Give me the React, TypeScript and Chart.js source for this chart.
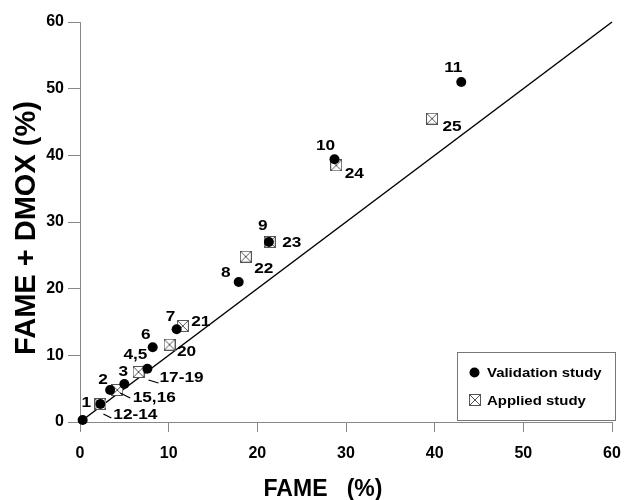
import React, { useEffect, useRef } from "react";
import { Chart, registerables } from "chart.js";

Chart.register(...registerables);

const validationX = [0.3, 2.3, 3.4, 5.0, 7.6, 8.2, 10.9, 17.9, 21.3, 28.7, 43.0];
const validationY = [0.3, 2.7, 4.8, 5.7, 8.0, 11.2, 13.9, 21.0, 27.0, 39.4, 51.0];
const validationLabels = ["", "1", "2", "3", "4,5", "6", "7", "8", "9", "10", "11"];

const appliedX = [2.3, 4.2, 6.6, 10.1, 11.6, 18.7, 21.4, 28.9, 39.7];
const appliedY = [2.7, 4.8, 7.5, 11.6, 14.4, 24.8, 27.0, 38.5, 45.5];
const appliedLabels = ["12-14", "15,16", "17-19", "20", "21", "22", "23", "24", "25"];

const identityLine = [0, 60];
const axisTicks = [0, 10, 20, 30, 40, 50, 60];

const xTitle = "FAME   (%)";
const yTitle = "FAME + DMOX (%)";
const legendNames = ["Validation study", "Applied study"];

// label offsets (pixels) relative to the point
const validationOffsets: [number, number][] = [
  [0, 0], [-14, -1], [-7, -10], [-1, -12], [-12, -14], [-7, -12], [-6, -12], [-13, -9], [-6, -16], [-9, -13], [-8, -14],
];
const appliedOffsets: [number, number][] = [
  [35, 11], [37, 8], [43, 6], [17, 7], [18, -4], [18, 12], [22, 1], [18, 9], [20, 8],
];
// leader lines for labels with them: [fromDx, fromDy, toDx, toDy]
const appliedLeaders: (number[] | null)[] = [
  [3, 10, 11, 14], [3, 3, 13, 8], [10, 8, 20, 11], null, null, null, null, null, null,
];

function makeBoxX(size: number): HTMLCanvasElement {
  const c = document.createElement("canvas");
  c.width = size;
  c.height = size;
  const g = c.getContext("2d")!;
  g.fillStyle = "#fff";
  g.fillRect(0, 0, size, size);
  g.strokeStyle = "#555";
  g.lineWidth = 1;
  g.strokeRect(0.5, 0.5, size - 1, size - 1);
  g.beginPath();
  g.moveTo(1, 1);
  g.lineTo(size - 1, size - 1);
  g.moveTo(size - 1, 1);
  g.lineTo(1, size - 1);
  g.stroke();
  return c;
}

const FONT = "'Liberation Sans', Arial, sans-serif";

function wideText(ctx: CanvasRenderingContext2D, t: string, x: number, y: number, sx: number) {
  ctx.save();
  ctx.translate(x, y);
  ctx.scale(sx, 1);
  ctx.fillText(t, 0, 0);
  ctx.restore();
}

const boxImg = makeBoxX(12);

const annotationPlugin = {
  id: "annot",
  afterDatasetsDraw(chart: any) {
    const ctx = chart.ctx as CanvasRenderingContext2D;
    const xs = chart.scales.x;
    const ys = chart.scales.y;
    const ca = chart.chartArea;
    ctx.save();
    ctx.fillStyle = "#000";
    ctx.textAlign = "center";
    ctx.textBaseline = "middle";
    ctx.font = `bold 15px ${FONT}`;
    validationLabels.forEach((t, i) => {
      if (!t) return;
      const px = xs.getPixelForValue(validationX[i]);
      const py = ys.getPixelForValue(validationY[i]);
      const [dx, dy] = validationOffsets[i];
      wideText(ctx, t, px + dx, py + dy, 1.15);
    });
    ctx.strokeStyle = "#000";
    ctx.lineWidth = 1.2;
    appliedLabels.forEach((t, i) => {
      const px = xs.getPixelForValue(appliedX[i]);
      const py = ys.getPixelForValue(appliedY[i]);
      const [dx, dy] = appliedOffsets[i];
      wideText(ctx, t, px + dx, py + dy, 1.15);
      const l = appliedLeaders[i];
      if (l) {
        ctx.beginPath();
        ctx.moveTo(px + l[0], py + l[1]);
        ctx.lineTo(px + l[2], py + l[3]);
        ctx.stroke();
      }
    });

    // axis titles
    ctx.textBaseline = "alphabetic";
    ctx.font = `bold 23px ${FONT}`;
    ctx.fillText(xTitle, (ca.left + ca.right) / 2 - 23, 496);
    ctx.save();
    ctx.translate(35, 228);
    ctx.rotate(-Math.PI / 2);
    ctx.font = `bold 29px ${FONT}`;
    ctx.fillText(yTitle, 0, 0);
    ctx.restore();

    // legend
    const lx = ca.right - 155;
    const ly = ca.bottom - 70;
    const lw = 158;
    const lh = 68;
    ctx.fillStyle = "#fff";
    ctx.fillRect(lx, ly, lw, lh);
    ctx.strokeStyle = "#777";
    ctx.lineWidth = 1;
    ctx.strokeRect(lx + 0.5, ly + 0.5, lw, lh);
    ctx.fillStyle = "#000";
    ctx.beginPath();
    ctx.arc(lx + 17.5, ly + 20.5, 5, 0, Math.PI * 2);
    ctx.fill();
    ctx.drawImage(boxImg, lx + 12, ly + 42, 12, 12);
    ctx.textAlign = "left";
    ctx.textBaseline = "middle";
    ctx.font = `bold 13px ${FONT}`;
    ctx.save();
    ctx.translate(lx + 30, 0);
    ctx.scale(1.15, 1);
    ctx.fillText(legendNames[0], 0, ly + 21);
    ctx.fillText(legendNames[1], 0, ly + 49);
    ctx.restore();
    ctx.restore();
  },
};

export default function App() {
  const ref = useRef<HTMLCanvasElement>(null);
  useEffect(() => {
    document.body.style.margin = "0";
    const chart = new Chart(ref.current!, {
      type: "scatter",
      data: {
        datasets: [
          {
            label: "line",
            data: identityLine.map((v) => ({ x: v, y: v })),
            showLine: true,
            borderColor: "#000",
            borderWidth: 1.5,
            pointRadius: 0,
            order: 3,
          },
          {
            label: legendNames[1],
            data: appliedX.map((x, i) => ({ x, y: appliedY[i] })),
            pointStyle: boxImg as any,
            pointRadius: 6,
            order: 2,
          },
          {
            label: legendNames[0],
            data: validationX.map((x, i) => ({ x, y: validationY[i] })),
            pointStyle: "circle",
            pointRadius: 5,
            backgroundColor: "#000",
            borderColor: "#000",
            borderWidth: 0,
            order: 1,
          },
        ],
      },
      options: {
        responsive: false,
        animation: false,
        clip: false as any,
        layout: { padding: { top: 22, right: 16, left: 0, bottom: 0 } },
        plugins: { legend: { display: false }, tooltip: { enabled: false } },
        scales: {
          x: {
            type: "linear",
            min: 0,
            max: 60,
            afterFit: (s: any) => {
              s.height = 78;
              s.paddingLeft = 0;
              s.paddingRight = 0;
            },
            afterBuildTicks: (s: any) => {
              s.ticks = axisTicks.map((v) => ({ value: v }));
            },
            grid: { drawOnChartArea: false, tickLength: 10, color: "#888" },
            border: { color: "#888", width: 1 },
            ticks: {
              color: "#000",
              padding: 12,
              maxRotation: 0,
              font: { family: FONT, size: 16, weight: "bold" },
            },
          },
          y: {
            type: "linear",
            min: 0,
            max: 60,
            afterFit: (s: any) => {
              s.width = 80;
              s.paddingTop = 0;
              s.paddingBottom = 0;
            },
            afterBuildTicks: (s: any) => {
              s.ticks = axisTicks.map((v) => ({ value: v }));
            },
            grid: { drawOnChartArea: false, tickLength: 12, color: "#888" },
            border: { color: "#888", width: 1 },
            ticks: {
              color: "#000",
              padding: 4,
              font: { family: FONT, size: 16, weight: "bold" },
            },
          },
        },
      },
      plugins: [annotationPlugin],
    });
    return () => chart.destroy();
  }, []);
  return <canvas ref={ref} width={628} height={500} style={{ display: "block" }} />;
}
